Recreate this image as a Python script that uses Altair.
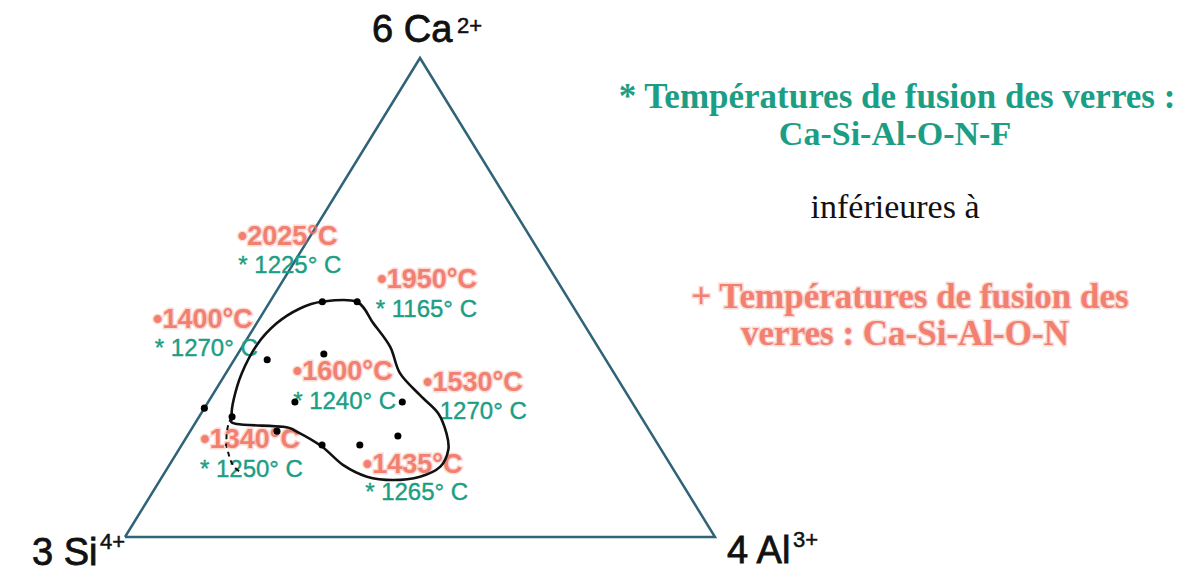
import altair as alt
import pandas as pd

# ---------------- data (cation %, ternary Ca / Al ; Si = 100 - Ca - Al) ----------------
vertex_label = ["3 Si", "4 Al", "6 Ca"]
vertex_charge = ["4+", "3+", "2+"]
vertex_ca = [0.0, 0.0, 100.0]
vertex_al = [0.0, 100.0, 0.0]

# glass compositions (black dots)
pt_ca = [49.1, 49.1, 38.2, 37.0, 28.2, 28.2, 25.1, 22.1, 19.2, 19.2, 21.1, 26.9]
pt_al = [8.9, 14.8, 14.6, 5.6, 14.7, 32.9, 5.6, 14.7, 23.8, 30.2, 35.7, 0.0]

# glass-forming domain boundary (closed curve)
bd_ca = [49.1, 49.1, 44.6, 39.7, 34.2, 29.6, 25.8, 21.6, 18.2, 14.7, 12.6, 11.9,
         12.6, 15.0, 18.9, 22.0, 23.0, 23.6, 25.0, 28.6, 34.2, 40.1, 44.6, 47.7]
bd_al = [8.8, 14.7, 19.8, 25.1, 29.5, 35.2, 40.2, 43.7, 45.7, 46.1, 43.7, 39.5,
         34.7, 29.5, 23.9, 18.1, 15.3, 7.1, 5.6, 4.1, 2.7, 2.3, 3.4, 5.8]

# dashed extension
dash_ca = [25.0, 21.9, 18.8, 16.1, 13.6]
dash_al = [5.6, 6.3, 7.7, 9.8, 12.7]

# melting temperatures Ca-Si-Al-O-N (red)
red_text = ["\u20222025°C", "\u20221950°C", "\u20221400°C", "\u20221600°C",
            "\u20221530°C", "\u20221340°C", "\u20221435°C"]
red_ca = [62.6, 53.7, 45.3, 34.5, 32.2, 20.3, 15.0]
red_al = [-12.2, 15.9, -17.9, 11.2, 34.4, 2.6, 32.8]

# melting temperatures Ca-Si-Al-O-N-F (green)
green_text = ["* 1225° C", "* 1165° C", "* 1270° C", "* 1240° C", "1270° C",
              "* 1250° C", "* 1265° C"]
green_ca = [56.6, 47.4, 39.3, 28.2, 26.1, 14.0, 9.2]
green_al = [-9.1, 18.8, -14.6, 14.4, 40.3, 5.7, 36.1]

right_text = ["* Températures de fusion des verres :", "Ca-Si-Al-O-N-F",
              "inférieures à", "+ Températures de fusion des", "verres : Ca-Si-Al-O-N"]

# ---------------- helpers ----------------
W, H = 1176, 569
xs = alt.Scale(domain=[-0.19831, 1.79492], nice=False, zero=False)
ys = alt.Scale(domain=[-0.08351, 1.10438], nice=False, zero=False)


def frame(ca, al, **extra):
    d = pd.DataFrame({"ca": ca, "al": al, **extra})
    d["x"] = d["al"] / 100 + d["ca"] / 200
    d["y"] = d["ca"] / 100
    return d


def xy(**kw):
    return dict(x=alt.X("x:Q", scale=xs, axis=None),
                y=alt.Y("y:Q", scale=ys, axis=None), **kw)


SANS = "Liberation Sans"
SERIF = "Liberation Serif"
TRI = "#2f6378"
GREEN = "#1c9e84"
RED = "#f06a58"

layers = []

# triangle
tri = frame([0, 0, 100, 0], [0, 100, 0, 0], o=[0, 1, 2, 3])
layers.append(alt.Chart(tri).mark_line(color=TRI, strokeWidth=2.5, strokeJoin="miter")
              .encode(**xy(order="o:Q")))

# red labels (soft, blurred look via translucent stroke)
red_df = frame(red_ca, red_al, t=red_text)
layers.append(alt.Chart(red_df).mark_text(font=SANS, fontSize=27, fontWeight="bold",
                                          align="left", baseline="middle", color=RED,
                                          stroke=RED, strokeWidth=3, strokeOpacity=0.3,
                                          opacity=0.85)
              .encode(**xy(text="t:N")))

# green labels
green_df = frame(green_ca, green_al, t=green_text)
layers.append(alt.Chart(green_df).mark_text(font=SANS, fontSize=24, align="left",
                                            baseline="middle", color=GREEN,
                                            stroke=GREEN, strokeWidth=0.4)
              .encode(**xy(text="t:N")))

# boundary curve
bd = frame(bd_ca, bd_al, o=list(range(len(bd_ca))))
layers.append(alt.Chart(bd).mark_line(color="#111111", strokeWidth=2.6,
                                      interpolate="cardinal-closed")
              .encode(**xy(order="o:Q")))
ds = frame(dash_ca, dash_al, o=list(range(len(dash_ca))))
layers.append(alt.Chart(ds).mark_line(color="#111111", strokeWidth=2, strokeDash=[5, 4],
                                      interpolate="monotone")
              .encode(**xy(order="o:Q")))

# dots
pts = frame(pt_ca, pt_al)
layers.append(alt.Chart(pts).mark_circle(size=50, color="#000000", opacity=1)
              .encode(**xy()))

# vertex labels with superscript charges
vdf = frame(vertex_ca, vertex_al, lab=vertex_label, chg=vertex_charge)
offsets = [(-93, 28, -25, 12), (12, 26, 78, 10), (-48, -16, 37, -25)]
for i, (mdx, mdy, sdx, sdy) in enumerate(offsets):
    one = vdf.iloc[[i]]
    layers.append(alt.Chart(one).mark_text(font=SANS, fontSize=38, color="#111111",
                                           align="left", baseline="alphabetic",
                                           stroke="#111111", strokeWidth=0.8,
                                           dx=mdx, dy=mdy)
                  .encode(**xy(text="lab:N")))
    layers.append(alt.Chart(one).mark_text(font=SANS, fontSize=22, color="#111111",
                                           align="left", baseline="alphabetic",
                                           stroke="#111111", strokeWidth=0.5,
                                           dx=sdx, dy=sdy)
                  .encode(**xy(text="chg:N")))


# right-hand legend text
def side(i, px, py, color, weight, size, soft=False):
    d = pd.DataFrame({"t": [right_text[i]]})
    kw = dict(font=SERIF, fontSize=size, fontWeight=weight, align="center",
              baseline="alphabetic", color=color)
    if soft:
        kw.update(stroke=color, strokeWidth=3, strokeOpacity=0.3, opacity=0.85)
    return alt.Chart(d).mark_text(**kw).encode(x=alt.value(px), y=alt.value(py), text="t:N")


layers.append(side(0, 889, 100, GREEN, "bold", 35))
layers.append(side(1, 887, 137, GREEN, "bold", 34))
layers.append(side(2, 887, 210, "#111111", "normal", 34))
layers.append(side(3, 902, 300, RED, "bold", 35, soft=True))
layers.append(side(4, 897, 337, RED, "bold", 35, soft=True))

chart = (alt.layer(*layers)
         .properties(width=W, height=H, padding=0, autosize="none", background="white")
         .configure_view(stroke=None))

chart.save("out.html", embed_options={"renderer": "svg", "actions": False})
